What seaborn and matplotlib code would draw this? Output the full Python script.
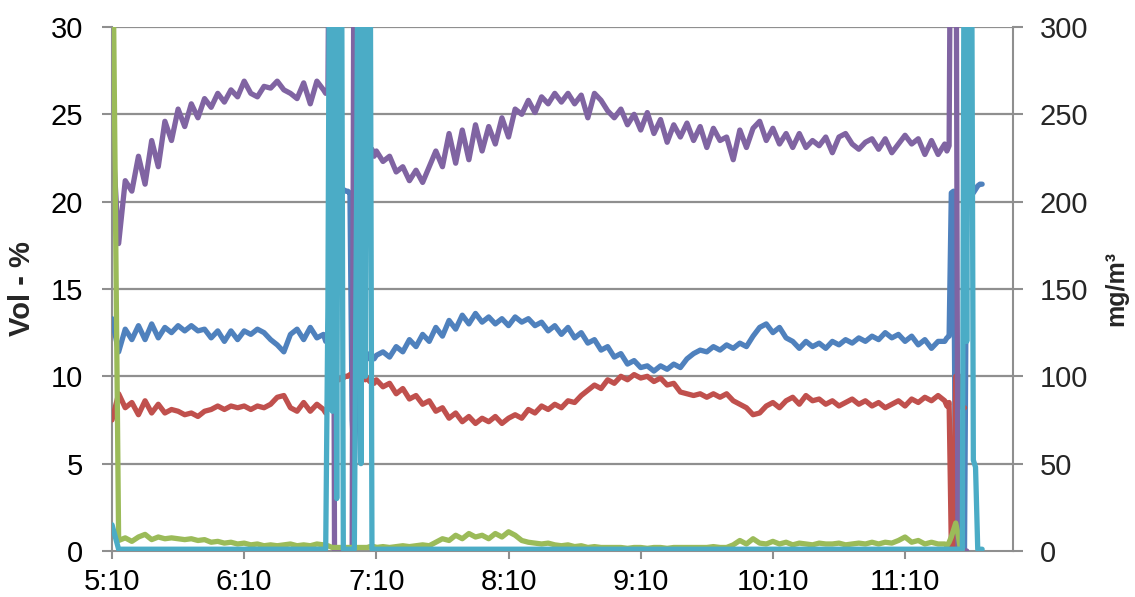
import matplotlib
matplotlib.use("Agg")
import matplotlib.pyplot as plt
import seaborn as sns
import pandas as pd
import numpy as np

nan = np.nan

# minutes after 5:10 (3-min steps, 1-min steps around the two calibration bursts)
t_min = list(range(0, 96, 3)) + list(range(96, 120)) + list(range(120, 378, 3)) + list(range(378, 396))

x_ticks = [0, 60, 120, 180, 240, 300, 360]
x_labels = ["5:10", "6:10", "7:10", "8:10", "9:10", "10:10", "11:10"]

purple = [24.2, 17.6, 21.2, 20.6, 22.6, 21.0, 23.5, 22.0, 24.6, 23.5, 25.3, 24.3, 25.6, 24.8, 25.9, 25.4,
          26.2, 25.7, 26.4, 26.0, 26.9, 26.2, 26.0, 26.6, 26.5, 26.9, 26.4, 26.2, 25.9, 26.8, 25.6, 26.9,
          26.4, 26.2, 26.3, 45, 45, 0, 0, 0, 0, 0, 0, 0, 0, 0, 45, 45, 45, 45, 45, 35, 23.2, 22.8, 23.0, 22.6,
          22.9, 22.3, 22.6, 21.7, 22.0, 21.2, 21.8, 21.1, 22.0, 22.9,
          22.0, 23.9, 22.2, 24.1, 22.4, 24.4, 22.9, 24.3, 23.3, 24.8,
          23.7, 25.3, 25.0, 25.8, 25.1, 26.0, 25.6, 26.2, 25.7, 26.2,
          25.6, 26.1, 24.8, 26.2, 25.8, 25.2, 24.8, 25.3, 24.4, 25.0,
          24.1, 25.1, 23.9, 24.7, 23.4, 24.4, 23.7, 24.5, 23.5, 24.3,
          23.1, 24.2, 23.5, 23.7, 22.4, 24.1, 23.1, 24.2, 24.6, 23.5,
          24.2, 23.3, 23.9, 23.1, 23.9, 23.1, 23.5, 23.2, 23.7, 22.8,
          23.7, 23.9, 23.3, 23.0, 23.4, 23.6, 23.0, 23.6, 22.8, 23.3,
          23.8, 23.3, 23.6, 22.7, 23.5, 22.7,
          23.3, 22.9, 23.2, 45, 45, 45, 0, 0, 0, 0, 0, nan, nan, nan, nan, nan, nan, nan]

blue = [13.3, 11.4, 12.7, 12.1, 12.9, 12.1, 13.0, 12.2, 12.8, 12.5, 12.9, 12.6, 12.9, 12.6, 12.7, 12.2,
        12.6, 12.0, 12.6, 12.1, 12.6, 12.4, 12.7, 12.5, 12.1, 11.8, 11.4, 12.4, 12.7, 12.1, 12.8, 12.2,
        12.4, 12.0, 12.5, 15.0, 20.7, 20.7, 20.7, 20.7, 20.7, 20.7, 20.6, 20.6, 20.5, 7.5, 5.0, 9.0,
        10.5, 11.0, 10.8, 11.2, 11.0, 11.3, 11.2, 11.0,
        11.2, 11.4, 11.1, 11.7, 11.4, 12.1, 11.7, 12.4, 12.0, 12.8,
        12.3, 13.2, 12.7, 13.5, 13.0, 13.6, 13.1, 13.4, 13.0, 13.3,
        12.9, 13.4, 13.1, 13.3, 12.9, 13.1, 12.6, 12.9, 12.4, 12.8,
        12.2, 12.5, 11.9, 12.1, 11.5, 11.7, 11.1, 11.3, 10.7, 10.9,
        10.5, 10.6, 10.3, 10.6, 10.4, 10.7, 10.5, 11.0, 11.3, 11.5,
        11.4, 11.7, 11.5, 11.8, 11.6, 11.9, 11.7, 12.3, 12.8, 13.0,
        12.5, 12.8, 12.2, 12.0, 11.6, 12.0, 11.7, 11.9, 11.6, 12.0,
        11.8, 12.1, 11.9, 12.2, 12.0, 12.3, 12.1, 12.5, 12.2, 12.4,
        12.0, 12.3, 11.8, 12.1, 11.6, 12.0,
        12.0, 12.2, 12.3, 20.5, 20.6, 0.1, 0.1, 0.1, 0.1, 0.1, 20.3, 20.4, 20.5, 20.5, 20.7, 20.9, 21.0, 21.0]

red = [7.5, 9.0, 8.2, 8.5, 7.8, 8.6, 7.9, 8.4, 7.9, 8.1, 8.0, 7.8, 7.9, 7.7, 8.0, 8.1,
       8.3, 8.1, 8.3, 8.2, 8.3, 8.1, 8.3, 8.2, 8.4, 8.8, 8.9, 8.2, 8.0, 8.5, 8.0, 8.4,
       8.1, 7.9, 8.2, 9.0, 9.5, 9.6, 9.8, 9.8, 9.9, 9.9, 10.0, 10.0, 10.1, 10.0, 10.0, 9.9,
       9.8, 9.8, 9.9, 9.8, 9.9, 9.7, 9.8, 9.6,
       9.8, 9.4, 9.6, 9.0, 9.3, 8.7, 8.9, 8.4, 8.6, 8.0,
       8.2, 7.6, 7.9, 7.4, 7.7, 7.3, 7.6, 7.4, 7.7, 7.3,
       7.6, 7.8, 7.6, 8.1, 7.9, 8.3, 8.1, 8.4, 8.2, 8.6,
       8.5, 8.9, 9.2, 9.5, 9.3, 9.8, 9.6, 10.0, 9.8, 10.1,
       9.9, 10.0, 9.7, 9.9, 9.5, 9.6, 9.1, 9.0, 8.9, 9.0,
       8.8, 9.0, 8.8, 9.0, 8.6, 8.4, 8.2, 7.8, 7.9, 8.3,
       8.5, 8.2, 8.6, 8.8, 8.4, 8.9, 8.6, 8.7, 8.4, 8.6,
       8.3, 8.5, 8.7, 8.4, 8.6, 8.3, 8.5, 8.2, 8.4, 8.6,
       8.3, 8.7, 8.5, 8.8, 8.6, 8.9,
       8.6, 8.3, 8.5, 0.3, 0.3, 10.0, 10.0, 10.0, 8.2, 8.2, nan, nan, nan, nan, nan, nan, nan, nan]

green = [40, 0.6, 0.75, 0.55, 0.8, 0.95, 0.65, 0.8, 0.7, 0.75, 0.7, 0.65, 0.7, 0.6, 0.65, 0.5,
         0.55, 0.45, 0.5, 0.4, 0.45, 0.35, 0.4, 0.3, 0.35, 0.3, 0.35, 0.4, 0.3, 0.35, 0.3, 0.4,
         0.35, 0.3, 0.3, 0.25, 0.2, 0.2, 0.2, 0.2, 0.2, 0.2, 0.2, 0.2, 0.2, 0.2, 0.2, 0.2,
         0.2, 0.2, 0.2, 0.2, 0.2, 0.25, 0.2, 0.25,
         0.2, 0.25, 0.2, 0.25, 0.3, 0.25, 0.3, 0.35, 0.3, 0.5,
         0.7, 0.6, 0.9, 0.7, 1.0, 0.8, 0.9, 0.7, 1.0, 0.8,
         1.1, 0.9, 0.6, 0.5, 0.45, 0.4, 0.45, 0.35, 0.3, 0.35,
         0.25, 0.3, 0.2, 0.25, 0.2, 0.2, 0.2, 0.2, 0.15, 0.2,
         0.2, 0.15, 0.2, 0.2, 0.15, 0.2, 0.2, 0.2, 0.2, 0.2,
         0.2, 0.25, 0.2, 0.2, 0.35, 0.6, 0.4, 0.7, 0.45, 0.4,
         0.55, 0.4, 0.5, 0.35, 0.45, 0.4, 0.35, 0.45, 0.4, 0.4,
         0.45, 0.35, 0.4, 0.45, 0.4, 0.5, 0.4, 0.5, 0.45, 0.6,
         0.8, 0.5, 0.6, 0.4, 0.5, 0.4,
         0.4, 0.3, 0.5, 0.8, 1.2, 1.6, 1.0, 0.2, 0.1, nan, nan, nan, nan, nan, nan, nan, nan, nan]

cyan = [1.5, 0.1, 0.1, 0.1, 0.1, 0.1, 0.1, 0.1, 0.1, 0.1, 0.1, 0.1, 0.1, 0.1, 0.1, 0.1,
        0.1, 0.1, 0.1, 0.1, 0.1, 0.1, 0.1, 0.1, 0.1, 0.1, 0.1, 0.1, 0.1, 0.1, 0.1, 0.1,
        0.1, 0.1, 14, 45, 8, 45, 3, 45, 45, 0.1, 0.1, 0.1, 0.1, 0.1, 0.1, 20,
        45, 5, 45, 10, 45, 45, 0.1, 0.1,
        0.1, 0.1, 0.1, 0.1, 0.1, 0.1, 0.1, 0.1, 0.1, 0.1,
        0.1, 0.1, 0.1, 0.1, 0.1, 0.1, 0.1, 0.1, 0.1, 0.1,
        0.1, 0.1, 0.1, 0.1, 0.1, 0.1, 0.1, 0.1, 0.1, 0.1,
        0.1, 0.1, 0.1, 0.1, 0.1, 0.1, 0.1, 0.1, 0.1, 0.1,
        0.1, 0.1, 0.1, 0.1, 0.1, 0.1, 0.1, 0.1, 0.1, 0.1,
        0.1, 0.1, 0.1, 0.1, 0.1, 0.1, 0.1, 0.1, 0.1, 0.1,
        0.1, 0.1, 0.1, 0.1, 0.1, 0.1, 0.1, 0.1, 0.1, 0.1,
        0.1, 0.1, 0.1, 0.1, 0.1, 0.1, 0.1, 0.1, 0.1, 0.1,
        0.1, 0.1, 0.1, 0.1, 0.1, 0.1,
        0.1, 0.1, 0.1, 0.1, 0.1, 0.1, 0.1, 0.1, 0.1, 45, 12, 45, 45, 5.2, 4.8, 0.1, 0.1, 0.1]

series = {"blue": blue, "red": red, "purple": purple, "green": green, "cyan": cyan}
colors = {"blue": "#4F81BD", "red": "#C0504D", "purple": "#8064A2", "green": "#9BBB59", "cyan": "#4BACC6"}

frames = []
for name, vals in series.items():
    frames.append(pd.DataFrame({"t": t_min, "value": np.array(vals, dtype=float), "series": name}))
df = pd.concat(frames, ignore_index=True)

sns.set_theme(style="white")
plt.rcParams["font.family"] = ["Liberation Sans", "DejaVu Sans"]

fig = plt.figure(figsize=(11.35, 5.97), dpi=100)
ax = fig.add_axes([0.0987, 0.0771, 0.7938, 0.8777])

grid_c = "#8f8f8f"
for v in [5, 10, 15, 20, 25, 30]:
    ax.axhline(v, color=grid_c, lw=1.6, zorder=0)

sns.lineplot(data=df, x="t", y="value", hue="series", hue_order=list(series.keys()),
             palette=colors, linewidth=3.8, legend=False, sort=False, ax=ax, zorder=3)

ax.set_xlim(0, 409)
ax.set_ylim(0, 30)
ax.set_yticks([0, 5, 10, 15, 20, 25, 30])
ax.set_xticks(x_ticks)
ax.set_xticklabels(x_labels)
ax.set_xlabel("")
ax.set_ylabel("Vol - %", fontsize=21, fontweight="bold", labelpad=10)
ax.tick_params(axis="both", labelsize=21, colors="#000000")
ax.tick_params(axis="y", length=7, width=1.5, color=grid_c, pad=14, direction="out", left=True)
ax.tick_params(axis="x", length=6, width=1.5, color=grid_c, pad=6, direction="out", bottom=True)
for s in ["top", "right"]:
    ax.spines[s].set_visible(False)
for s in ["left", "bottom"]:
    ax.spines[s].set_color(grid_c)
    ax.spines[s].set_linewidth(1.5)

ax2 = ax.twinx()
ax2.set_ylim(0, 300)
ax2.set_yticks([0, 50, 100, 150, 200, 250, 300])
ax2.tick_params(axis="y", labelsize=21, length=7, width=1.5, color=grid_c, pad=12, direction="out", right=True)
ax2.set_ylabel("mg/m³", fontsize=18, fontweight="bold", labelpad=12)
for s in ["top", "left", "bottom"]:
    ax2.spines[s].set_visible(False)
ax2.spines["right"].set_color(grid_c)
ax2.spines["right"].set_linewidth(1.5)
ax2.grid(False)

fig.savefig("out.png", dpi=100)
